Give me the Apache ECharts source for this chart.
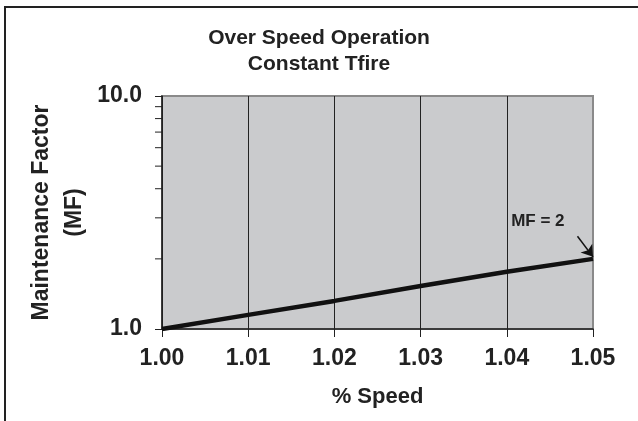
<!DOCTYPE html>
<html>
<head>
<meta charset="utf-8">
<script src="https://cdn.jsdelivr.net/npm/echarts@6/dist/echarts.min.js"></script>
<style>
html,body{margin:0;padding:0;background:#fff;}
#chart{width:638px;height:421px;}
</style>
</head>
<body>
<div id="chart"></div>
<script>
// ---- data ----
var titleLines = ['Over Speed Operation', 'Constant Tfire'];
var xName = '% Speed';
var yName = 'Maintenance Factor\n(MF)';
var speed = [1.00, 1.01, 1.02, 1.03, 1.04, 1.05];
var mf = [1.0, 1.15, 1.32, 1.53, 1.76, 2.0];
var xMin = 1.00, xMax = 1.05, xStep = 0.01;
var yMin = 1, yMax = 10;
var yMinorTicks = [2, 3, 4, 5, 6, 7, 8, 9];
var annotationText = 'MF = 2';
var annotationLabelAt = [1.0436, 2.9];
var arrowFrom = [1.0482, 2.5];
var arrowTo = [1.05, 2.04];

var FONT = 'Liberation Sans, Arial, sans-serif';
var chart = echarts.init(document.getElementById('chart'), null, {renderer: 'canvas'});

chart.setOption({
  animation: false,
  backgroundColor: '#fff',
  graphic: [{
    type: 'rect', z: -10,
    shape: {x: 5, y: 7, width: 800, height: 600},
    style: {fill: 'none', stroke: '#222', lineWidth: 2}
  }],
  title: {
    text: titleLines.join('\n'),
    left: 'center', top: 20,
    textStyle: {fontFamily: FONT, fontWeight: 'bold', fontSize: 21, lineHeight: 26, color: '#222'}
  },
  grid: {
    left: 162, right: 45, top: 96, bottom: 92,
    show: true, backgroundColor: '#cacbcd', borderColor: '#8a8a8a', borderWidth: 2
  },
  xAxis: {
    type: 'value', min: xMin, max: xMax, interval: xStep,
    name: xName, nameLocation: 'middle', nameGap: 57,
    nameTextStyle: {fontFamily: FONT, fontWeight: 'bold', fontSize: 22, color: '#222'},
    axisLine: {show: true, lineStyle: {color: '#222', width: 1.5}},
    axisTick: {show: true, inside: false, length: 8, lineStyle: {color: '#222', width: 1}},
    axisLabel: {
      margin: 18, fontFamily: FONT, fontWeight: 'bold', fontSize: 23, color: '#222',
      formatter: function (v) { return v.toFixed(2); }
    },
    splitLine: {show: true, lineStyle: {color: ['#222', '#222', '#222', '#222', '#222', '#8a8a8a'], width: 1}}
  },
  yAxis: {
    type: 'log', logBase: 10, min: yMin, max: yMax,
    name: yName, nameLocation: 'middle', nameRotate: 90, nameGap: 71, nameMoveOverlap: false,
    nameTextStyle: {fontFamily: FONT, fontWeight: 'bold', fontSize: 23, lineHeight: 33, color: '#222'},
    axisLine: {show: true, lineStyle: {color: '#222', width: 1.5}},
    axisTick: {show: true, inside: false, length: 7, lineStyle: {color: '#222', width: 1}},
    axisLabel: {
      margin: 20, fontFamily: FONT, fontWeight: 'bold', fontSize: 23, color: '#222',
      formatter: function (v) { return v.toFixed(1); }
    },
    splitLine: {show: false}
  },
  series: [{
    type: 'line',
    data: speed.map(function (x, i) { return [x, mf[i]]; }),
    showSymbol: false, symbol: 'none',
    lineStyle: {color: '#111', width: 4.5},
    z: 5,
    markLine: {
      silent: true,
      symbol: ['none', 'arrow'], symbolSize: 11,
      label: {show: false},
      lineStyle: {color: '#111', width: 1.5, type: 'solid'},
      data: [[{coord: arrowFrom}, {coord: arrowTo}]]
    },
    markPoint: {
      silent: true,
      symbol: 'circle', symbolSize: 0,
      label: {show: true, position: 'inside', formatter: annotationText,
        fontFamily: FONT, fontWeight: 'bold', fontSize: 17, color: '#222'},
      data: [{coord: annotationLabelAt}]
    }
  }, {
    type: 'custom',
    clip: false,
    silent: true,
    data: yMinorTicks.map(function (v) { return [xMin, v]; }),
    renderItem: function (params, api) {
      var p = api.coord([api.value(0), api.value(1)]);
      return {
        type: 'line',
        shape: {x1: p[0] - 7, y1: p[1], x2: p[0], y2: p[1]},
        style: {stroke: '#222', lineWidth: 1}
      };
    }
  }]
});
</script>
</body>
</html>
